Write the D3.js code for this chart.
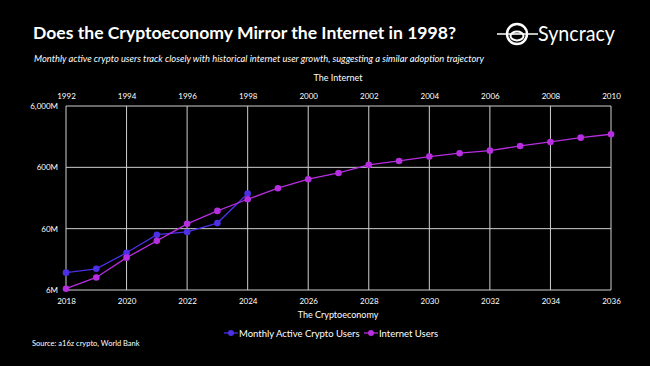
<!DOCTYPE html>
<html>
<head>
<meta charset="utf-8">
<script src="https://cdn.jsdelivr.net/npm/d3@7"></script>
<style>
  html, body { margin: 0; padding: 0; background: #000; }
  svg { display: block; }
  text { font-family: Lato, "Open Sans", "Liberation Sans", sans-serif; fill: #fff; }
</style>
</head>
<body>
<svg id="chart" width="650" height="366"></svg>
<script>
// ---- Data ----
const cryptoYears = [2018, 2019, 2020, 2021, 2022, 2023, 2024, 2025, 2026, 2027, 2028, 2029, 2030, 2031, 2032, 2033, 2034, 2035, 2036];
const cryptoUsers = [11.5, 13.3, 24.3, 47.8, 53, 74, 224]; // millions, 2018–2024
const internetUsers = [6.3, 9.6, 20.2, 38, 72, 117, 181, 274, 384, 486, 658, 763, 898, 1020, 1123, 1339, 1556, 1830, 2077]; // millions, 1992–2010
const bottomTicks = [2018, 2020, 2022, 2024, 2026, 2028, 2030, 2032, 2034, 2036];
const topTickLabels = ["1992", "1994", "1996", "1998", "2000", "2002", "2004", "2006", "2008", "2010"];
const yTicks = [6, 60, 600, 6000];
const yTickLabels = ["6M", "60M", "600M", "6,000M"];
const seriesNames = ["Monthly Active Crypto Users", "Internet Users"];
const colors = ["#4b30e6", "#b62ee0"];

const svg = d3.select("#chart");
svg.append("rect").attr("width", 650).attr("height", 366).attr("fill", "#000");

const x = d3.scaleLinear().domain([2018, 2036]).range([66, 611]);
const y = d3.scaleLog().domain([6, 6000]).range([290, 106]);

// ---- Title & subtitle ----
svg.append("text").attr("x", 33).attr("y", 38.5)
  .attr("font-size", 17).attr("font-weight", 700)
  .attr("textLength", 423).attr("lengthAdjust", "spacingAndGlyphs")
  .text("Does the Cryptoeconomy Mirror the Internet in 1998?");
svg.append("text").attr("x", 34).attr("y", 62)
  .attr("font-size", 10).attr("font-style", "italic")
  .attr("textLength", 450).attr("lengthAdjust", "spacingAndGlyphs")
  .text("Monthly active crypto users track closely with historical internet user growth, suggesting a similar adoption trajectory");

// ---- Logo ----
const logo = svg.append("g").attr("transform", "translate(517,34)");
logo.append("line").attr("x1", -20).attr("x2", 21).attr("y1", 0).attr("y2", 0)
  .attr("stroke", "#fff").attr("stroke-width", 1.6);
logo.append("circle").attr("r", 10).attr("fill", "none").attr("stroke", "#fff").attr("stroke-width", 2.4);
logo.append("ellipse").attr("cx", 0).attr("cy", 2).attr("rx", 6.5).attr("ry", 4.5)
  .attr("fill", "#000").attr("stroke", "#fff").attr("stroke-width", 2);
logo.append("line").attr("x1", -6).attr("x2", 6).attr("y1", 0).attr("y2", 0)
  .attr("stroke", "#fff").attr("stroke-width", 1.6);
svg.append("text").attr("x", 538).attr("y", 40.5)
  .attr("font-size", 21).attr("font-weight", 400)
  .attr("textLength", 77).attr("lengthAdjust", "spacingAndGlyphs")
  .text("Syncracy");

// ---- Grid ----
const grid = svg.append("g").attr("stroke", "#cfcfcf").attr("stroke-width", 1);
grid.selectAll("line.v").data(bottomTicks).join("line")
  .attr("x1", d => x(d)).attr("x2", d => x(d))
  .attr("y1", y(6000)).attr("y2", y(6));
grid.selectAll("line.h").data(yTicks).join("line")
  .attr("class", "h")
  .attr("x1", x(2018)).attr("x2", x(2036))
  .attr("y1", d => y(d)).attr("y2", d => y(d));

// ---- Axes ----
const bottomAxis = d3.axisBottom(x).tickValues(bottomTicks).tickFormat(d3.format("d")).tickSize(0).tickPadding(8);
svg.append("g").attr("transform", `translate(0,${y(6)})`).call(bottomAxis)
  .call(g => g.select(".domain").remove())
  .selectAll("text").attr("font-size", 8).attr("fill", "#fff").attr("font-family", "Lato, sans-serif");

const topAxis = d3.axisTop(x).tickValues(bottomTicks).tickFormat((d, i) => topTickLabels[i]).tickSize(0).tickPadding(7);
svg.append("g").attr("transform", `translate(0,${y(6000)})`).call(topAxis)
  .call(g => g.select(".domain").remove())
  .selectAll("text").attr("font-size", 8).attr("fill", "#fff").attr("font-family", "Lato, sans-serif");

const leftAxis = d3.axisLeft(y).tickValues(yTicks).tickFormat((d, i) => yTickLabels[i]).tickSize(0).tickPadding(8);
svg.append("g").attr("transform", `translate(${x(2018)},0)`).call(leftAxis)
  .call(g => g.select(".domain").remove())
  .selectAll("text").attr("font-size", 8).attr("fill", "#fff").attr("font-family", "Lato, sans-serif");

svg.append("text").attr("x", 338).attr("y", 80.5).attr("text-anchor", "middle")
  .attr("font-size", 9).text("The Internet");
svg.append("text").attr("x", 338).attr("y", 318).attr("text-anchor", "middle")
  .attr("font-size", 9).text("The Cryptoeconomy");

// ---- Series ----
const series = [cryptoUsers, internetUsers];
const line = d3.line().x((d, i) => x(cryptoYears[i])).y(d => y(d));
series.forEach((vals, k) => {
  svg.append("path").datum(vals).attr("d", line)
    .attr("fill", "none").attr("stroke", colors[k]).attr("stroke-width", 1.3);
  svg.append("g").selectAll("circle").data(vals).join("circle")
    .attr("cx", (d, i) => x(cryptoYears[i])).attr("cy", d => y(d))
    .attr("r", 3.3).attr("fill", colors[k]);
});

// ---- Legend ----
const legendItems = [{ x: 224, tx: 239 }, { x: 364, tx: 379 }];
legendItems.forEach((it, k) => {
  svg.append("line").attr("x1", it.x).attr("x2", it.x + 14).attr("y1", 333).attr("y2", 333)
    .attr("stroke", colors[k]).attr("stroke-width", 1.3);
  svg.append("circle").attr("cx", it.x + 7).attr("cy", 333).attr("r", 3).attr("fill", colors[k]);
  svg.append("text").attr("x", it.tx).attr("y", 336.5).attr("font-size", 9.5).text(seriesNames[k]);
});

// ---- Source ----
svg.append("text").attr("x", 32).attr("y", 346).attr("font-size", 7.5).text("Source: a16z crypto, World Bank");
</script>
</body>
</html>
